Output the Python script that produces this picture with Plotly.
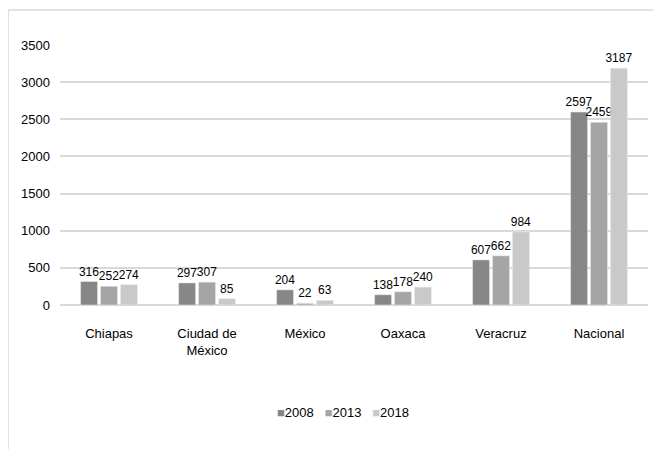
import plotly.graph_objects as go

estados = ["Chiapas", "Ciudad de<br>México", "México", "Oaxaca", "Veracruz", "Nacional"]
anios = ["2008", "2013", "2018"]
v2008 = [316, 297, 204, 138, 607, 2597]
v2013 = [252, 307, 22, 178, 662, 2459]
v2018 = [274, 85, 63, 240, 984, 3187]
colores = ["#878787", "#a5a5a5", "#c9c9c9"]

fuente = "Liberation Sans, Arial, sans-serif"

fig = go.Figure()
for anio, vals, col in zip(anios, [v2008, v2013, v2018], colores):
    fig.add_trace(go.Bar(
        x=estados, y=vals, name=anio, marker_color=col,
        text=vals, textposition="outside", cliponaxis=False, constraintext="none",
        textfont=dict(size=12, color="#000000", family=fuente),
    ))

# the page body has an 8px margin, so the figure is a bit smaller
fig.update_layout(
    width=653, height=441,
    margin=dict(l=52, r=13, t=37, b=144, autoexpand=False),
    paper_bgcolor="white", plot_bgcolor="white",
    barmode="group", bargap=0.39, bargroupgap=0.15,
    font=dict(family=fuente, size=13, color="#000000"),
    showlegend=False,
)
fig.update_yaxes(range=[0, 3500], dtick=500, showgrid=True, gridcolor="#d9d9d9", gridwidth=1.5,
                 zeroline=True, zerolinecolor="#d9d9d9", zerolinewidth=1.5,
                 ticks="", showline=False, automargin=False, ticklabelstandoff=9,
                 tickfont=dict(size=13))
fig.update_xaxes(showline=False, ticks="", automargin=False, ticklabelstandoff=19,
                 tickfont=dict(size=13))

# leyenda
leyenda = "   ".join(
    f'<span style="color:{c}">■</span>{a}' for a, c in zip(anios, colores)
)
fig.add_annotation(text=leyenda, xref="paper", yref="paper", x=0.481, y=-0.415,
                   xanchor="center", yanchor="middle", showarrow=False,
                   font=dict(size=13, family=fuente))

# marco del grafico
fig.add_shape(type="line", xref="paper", yref="paper", x0=-0.0884, x1=1.03, y0=1.1346, y1=1.1346,
              line=dict(color="#d9d9d9", width=1.5))
fig.add_shape(type="line", xref="paper", yref="paper", x0=-0.0884, x1=-0.0884, y0=1.1346, y1=-0.56,
              line=dict(color="#d9d9d9", width=1.5))

fig.write_html("out.html")
